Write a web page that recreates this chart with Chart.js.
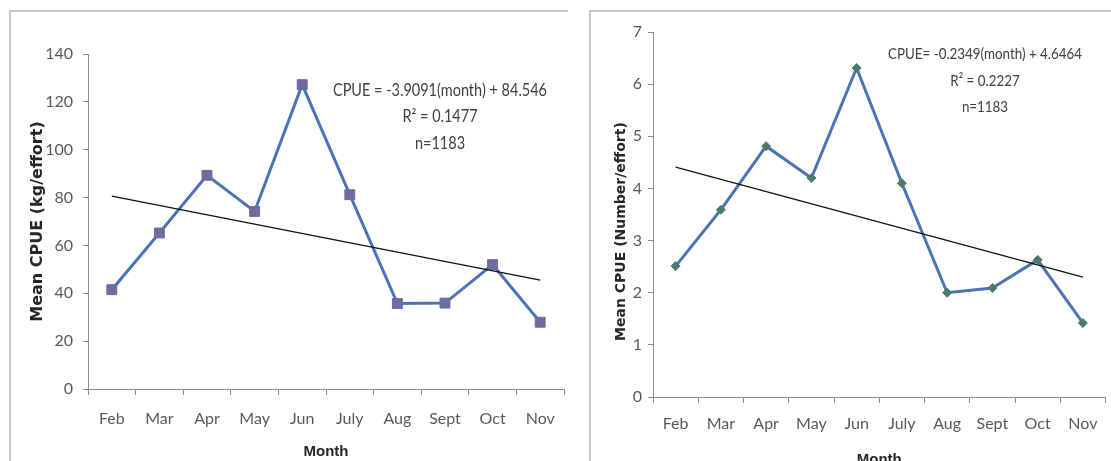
<!DOCTYPE html>
<html>
<head>
<meta charset="utf-8">
<script src="https://cdn.jsdelivr.net/npm/chart.js@4.4.1/dist/chart.umd.min.js"></script>
<style>
    body { margin: 0; background: #fff; width: 1111px; height: 461px; overflow: hidden; position: relative; }
    .marco { position: absolute; top: 10px; height: 470px; border-top: 2px solid #cacaca; border-left: 2px solid #cacaca; }
    #marcoKg { left: 9px; width: 557px; }
    #marcoNum { left: 589px; width: 540px; }
    canvas { position: absolute; top: 0; }
    #graficoKg { left: 0; }
    #graficoNum { left: 590px; }
</style>
</head>
<body>
<div class="marco" id="marcoKg"></div>
<div class="marco" id="marcoNum"></div>
<canvas id="graficoKg" width="572" height="461"></canvas>
<canvas id="graficoNum" width="521" height="461"></canvas>
<script>
// Datos
const meses = ['Feb', 'Mar', 'Apr', 'May', 'Jun', 'July', 'Aug', 'Sept', 'Oct', 'Nov'];

const cpueKg = [41.5, 65.2, 89.3, 74.2, 127.2, 81.2, 35.7, 35.9, 52, 27.9];
const tendenciaKg = [80.6, null, null, null, null, null, null, null, null, 45.5];
const ticksKg = [0, 20, 40, 60, 80, 100, 120, 140];
const textoKg = ['CPUE = -3.9091(month) + 84.546', 'R² = 0.1477', 'n=1183'];

const cpueNum = [2.51, 3.59, 4.81, 4.2, 6.31, 4.1, 2.0, 2.09, 2.63, 1.42];
const tendenciaNum = [4.41, null, null, null, null, null, null, null, null, 2.30];
const ticksNum = [0, 1, 2, 3, 4, 5, 6, 7];
const textoNum = ['CPUE= -0.2349(month) + 4.6464', 'R² = 0.2227', 'n=1183'];

const fuenteTicks = "Lato, 'Liberation Sans', sans-serif";

// Texto de la ecuacion dentro del grafico (comprimido a lo ancho como en el original)
const pluginTexto = {
    id: 'textoEcuacion',
    afterDraw(chart, args, opts) {
        const ctx = chart.ctx;
        ctx.save();
        ctx.fillStyle = '#404040';
        ctx.font = opts.size + "px " + fuenteTicks;
        ctx.textAlign = 'center';
        ctx.textBaseline = 'middle';
        const escala = Math.min(1, opts.ancho / ctx.measureText(opts.lineas[0]).width);
        ctx.translate(opts.x, 0);
        ctx.scale(escala, 1);
        opts.lineas.forEach((t, i) => ctx.fillText(t, 0, opts.y[i]));
        ctx.restore();
    }
};

function crearGrafico(id, p) {
    const ctx = document.getElementById(id).getContext('2d');
    new Chart(ctx, {
        type: 'line',
        data: {
            labels: meses,
            datasets: [{
                data: p.valores,
                borderColor: '#4a74b4',
                borderWidth: 3,
                pointStyle: p.marca,
                pointRadius: p.radio,
                pointBackgroundColor: p.colorMarca,
                pointBorderColor: p.colorMarca,
                pointBorderWidth: 1,
                tension: 0,
                order: 1
            }, {
                data: p.tendencia,
                borderColor: '#111',
                borderWidth: 1.3,
                pointRadius: 0,
                spanGaps: true,
                order: 0
            }]
        },
        options: {
            responsive: false,
            animation: false,
            layout: {
                padding: { left: 0, right: p.derecha, top: p.arriba, bottom: 0 }
            },
            scales: {
                x: {
                    offset: true,
                    grid: { offset: true, drawOnChartArea: false, tickLength: 6, color: '#8c8c8c' },
                    border: { color: '#8c8c8c', width: 1 },
                    ticks: {
                        color: '#595959',
                        padding: p.padX,
                        maxRotation: 0,
                        font: { size: 16, family: fuenteTicks }
                    },
                    title: {
                        display: true,
                        text: 'Month',
                        color: '#262626',
                        padding: { top: 0, bottom: p.padMes },
                        font: { size: 15, weight: 'bold', family: "'Liberation Sans', Arial, sans-serif" }
                    },
                    afterFit: s => { s.height = p.altoX; }
                },
                y: {
                    min: 0,
                    max: p.ticks[p.ticks.length - 1],
                    afterBuildTicks: s => { s.ticks = p.ticks.map(v => ({ value: v })); },
                    grid: { drawOnChartArea: false, tickLength: 5, color: '#8c8c8c' },
                    border: { color: '#8c8c8c', width: 1 },
                    ticks: {
                        color: '#595959',
                        padding: p.padY,
                        font: { size: 16, family: fuenteTicks }
                    },
                    title: {
                        display: true,
                        text: p.tituloY,
                        color: '#262626',
                        padding: { top: p.padTituloY, bottom: 0 },
                        font: { size: p.tamTituloY, weight: 'bold', family: "'DejaVu Sans', sans-serif" }
                    },
                    afterFit: s => { s.width = p.anchoY; }
                }
            },
            plugins: {
                legend: { display: false },
                tooltip: { enabled: false },
                textoEcuacion: { lineas: p.texto, x: p.textoX, y: p.textoY, size: p.tamTexto, ancho: p.anchoTexto }
            }
        },
        plugins: [pluginTexto]
    });
}

crearGrafico('graficoKg', {
    valores: cpueKg, tendencia: tendenciaKg, ticks: ticksKg,
    marca: 'rect', radio: 7, colorMarca: '#6e6b9e',
    tituloY: 'Mean CPUE (kg/effort)', tamTituloY: 16, padTituloY: 28,
    anchoY: 88, altoX: 72, derecha: 2, arriba: 54,
    padX: 14, padY: 10, padMes: 0,
    texto: textoKg, textoX: 440, textoY: [91, 117, 144], tamTexto: 17, anchoTexto: 214
});

// espacios al final para bajar un poco el titulo, como en el original
crearGrafico('graficoNum', {
    valores: cpueNum, tendencia: tendenciaNum, ticks: ticksNum,
    marca: 'rectRot', radio: 4.5, colorMarca: '#4b7c68',
    tituloY: 'Mean CPUE (Number/effort)' + '\u00a0'.repeat(7), tamTituloY: 14, padTituloY: 23,
    anchoY: 63, altoX: 64, derecha: 3, arriba: 32,
    padX: 11, padY: 6, padMes: -8,
    texto: textoNum, textoX: 395, textoY: [54, 81, 107], tamTexto: 16, anchoTexto: 194
});
</script>
</body>
</html>
